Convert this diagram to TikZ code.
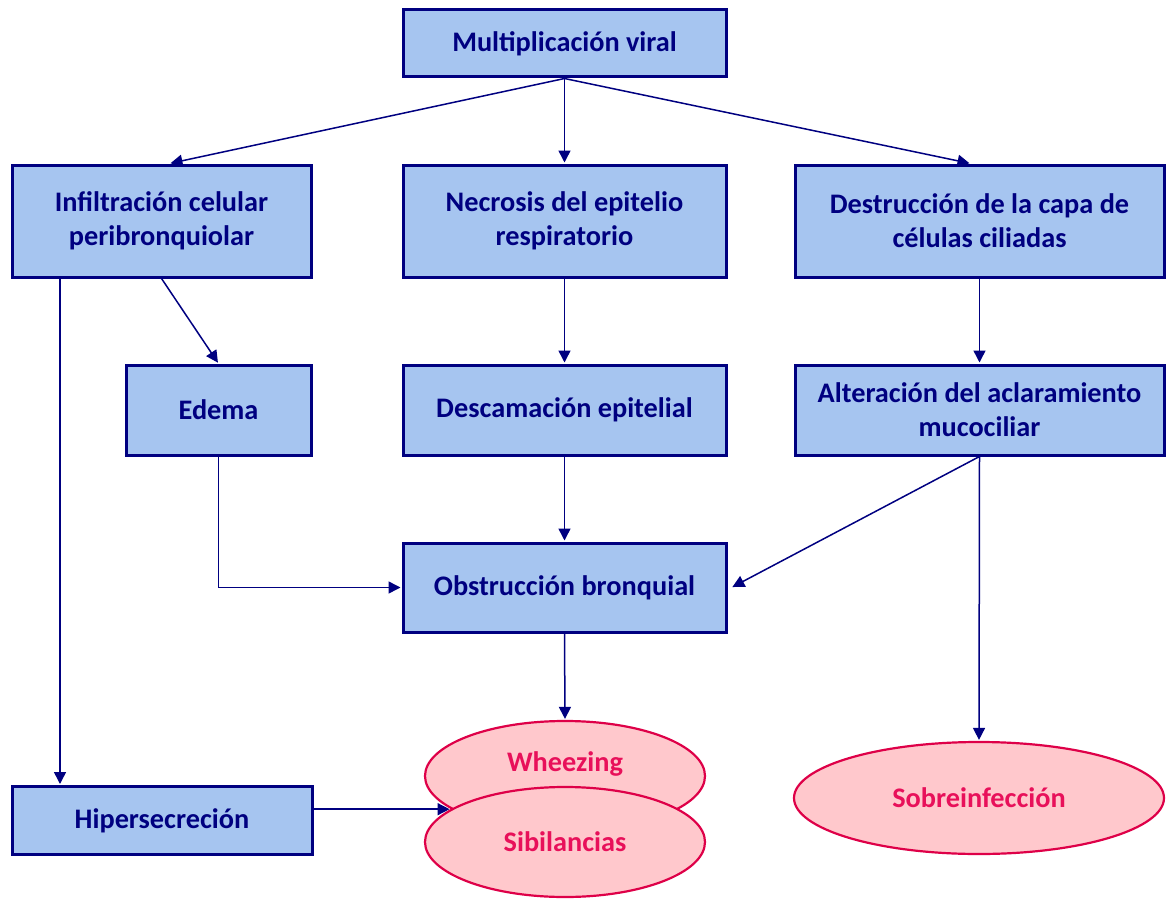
\documentclass[tikz,border=0pt]{standalone}
\usepackage{fontspec}
\setmainfont{Carlito}
\usetikzlibrary{arrows.meta,shapes.geometric}
\definecolor{boxfill}{RGB}{166,197,240}
\definecolor{navy}{RGB}{0,0,128}
\definecolor{pinkfill}{RGB}{255,200,204}
\definecolor{pinkline}{RGB}{222,0,72}
\definecolor{pinktext}{RGB}{232,16,90}
\tikzset{
  x=1pt, y=-1pt,
  stagebox/.style={draw=navy, line width=3pt, fill=boxfill, rectangle,
    text=navy, font=\fontsize{28.3}{34}\selectfont\bfseries, align=center,
    inner sep=0pt},
  outcome/.style={draw=pinkline, line width=2.2pt, fill=pinkfill, ellipse,
    inner sep=0pt},
  outtext/.style={text=pinktext, font=\fontsize{28.3}{34}\selectfont\bfseries},
  link/.style={draw=navy, line width=1.5pt,
    -{Triangle[length=12pt,width=12pt]}, shorten >=1pt}
}
\begin{document}
\begin{tikzpicture}
\useasboundingbox (0,0) rectangle (1168,899);

% boxes
\node[stagebox, minimum width=323pt, minimum height=67pt] (multi) at (564.5,43.5) {Multiplicación viral};
\node[stagebox, minimum width=299pt, minimum height=112pt] (infil) at (161.5,221) {Infiltración celular\\peribronquiolar};
\node[stagebox, minimum width=323pt, minimum height=112pt] (necro) at (564.5,221) {Necrosis del epitelio\\respiratorio};
\node[stagebox, minimum width=369pt, minimum height=112pt] (destr) at (979.5,221) {Destrucción de la capa de\\células ciliadas};
\node[stagebox, minimum width=185pt, minimum height=90pt] (edema) at (218.5,410) {Edema};
\node[stagebox, minimum width=323pt, minimum height=90pt] (desca) at (564.5,410) {Descamación epitelial};
\node[stagebox, minimum width=369pt, minimum height=90pt] (alter) at (979.5,410) {Alteración del aclaramiento\\mucociliar};
\node[stagebox, minimum width=323pt, minimum height=89pt] (obstr) at (564.5,587.5) {Obstrucción bronquial};
\node[stagebox, minimum width=300pt, minimum height=68pt] (hiper) at (162,820.5) {Hipersecreción};

% outcomes
\node[outcome, minimum width=280pt, minimum height=110pt] (wheez) at (565,776) {};
\node[outtext] (wheeztext) at (565,764) {Wheezing};
\node[outcome, minimum width=280pt, minimum height=110pt, outtext] (sibil) at (565,842) {Sibilancias};
\node[outcome, minimum width=370pt, minimum height=112pt, outtext] (sobre) at (979,798) {Sobreinfección};

\coordinate (rail) at (60,277);

% connectors
\draw[link] (multi.south) -- ([xshift=8pt]infil.north);
\draw[link] (multi.south) -- (necro.north);
\draw[link] (multi.south) -- ([xshift=-9pt]destr.north);
\draw[link] (infil.south -| rail) -- (hiper.north -| rail);
\draw[link] (infil.south) -- (edema.north);
\draw[link] (necro.south) -- (desca.north);
\draw[link] (destr.south) -- (alter.north);
\draw[link] (desca.south) -- (obstr.north);
\draw[link] (edema.south) |- (obstr.west);
\draw[link] (alter.south) -- ([xshift=4pt]obstr.east);
\draw[link] (alter.south) -- (sobre.north);
\draw[link] (obstr.south) -- (wheez.north);
\draw[link] (sibil.164.3 -| hiper.east) -- (sibil.164.3);
\end{tikzpicture}
\end{document}
